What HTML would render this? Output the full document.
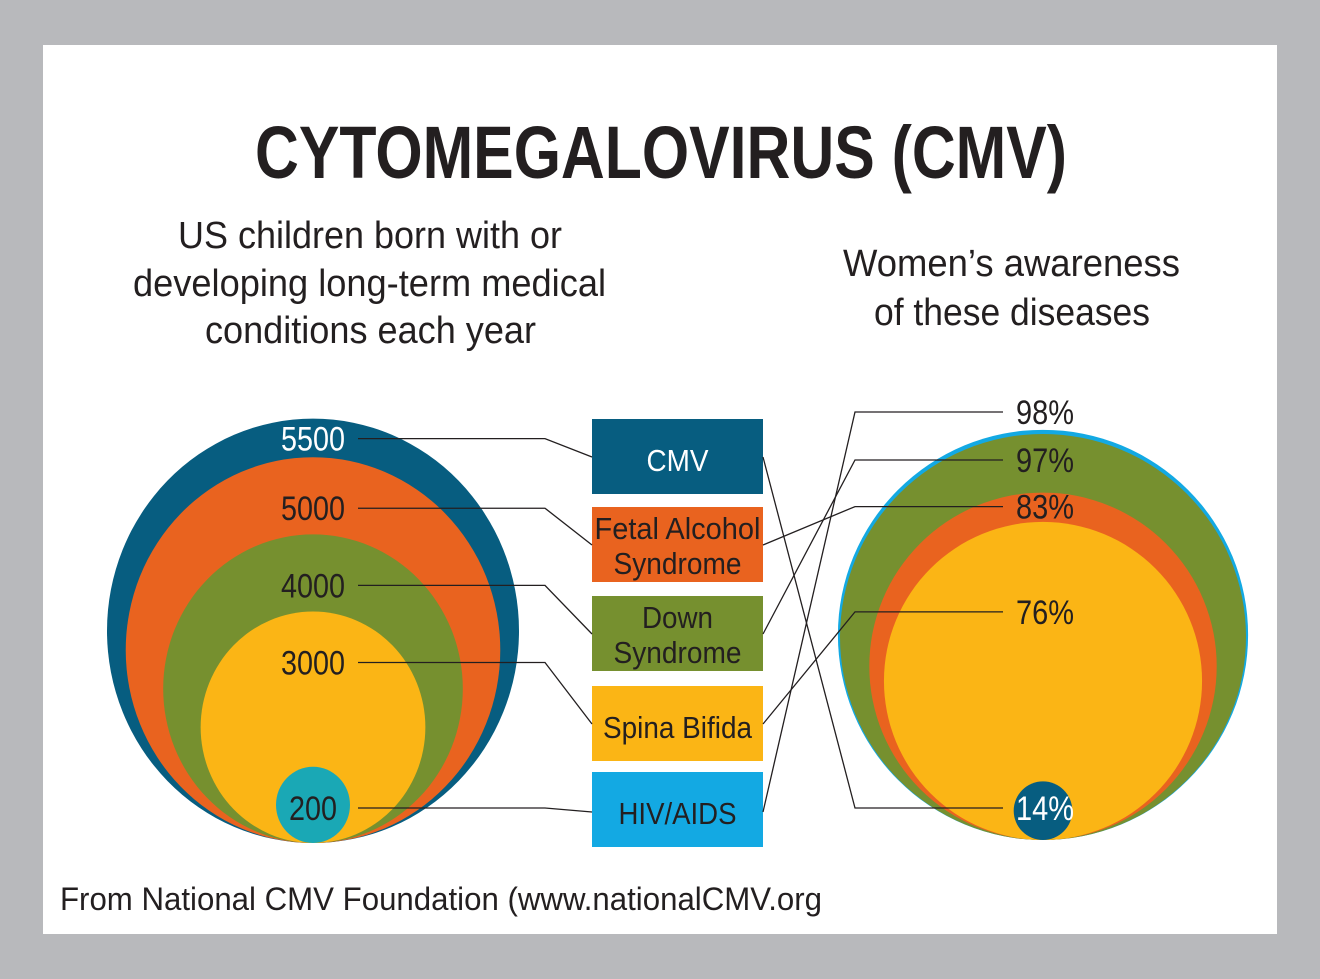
<!DOCTYPE html>
<html><head><meta charset="utf-8"><style>
html,body{margin:0;padding:0;background:#b8b9bc;}
svg{display:block;}
text{font-family:"Liberation Sans",sans-serif;}
</style></head><body>
<svg id="chart" width="1320" height="979" viewBox="0 0 1320 979">
<rect x="0" y="0" width="1320" height="979" fill="#b8b9bc"/>
<rect x="43" y="45" width="1234" height="889" fill="#ffffff"/>
<text x="255" y="178" font-size="74" font-weight="bold" fill="#231f20" textLength="812" lengthAdjust="spacingAndGlyphs">CYTOMEGALOVIRUS (CMV)</text>
<g fill="#231f20" font-size="38">
<text x="178" y="248" textLength="384" lengthAdjust="spacingAndGlyphs">US children born with or</text>
<text x="133" y="296" textLength="473" lengthAdjust="spacingAndGlyphs">developing long-term medical</text>
<text x="205" y="343" textLength="331" lengthAdjust="spacingAndGlyphs">conditions each year</text>
</g>
<g fill="#231f20" font-size="38">
<text x="843" y="276" textLength="337" lengthAdjust="spacingAndGlyphs">Women’s awareness</text>
<text x="874" y="325" textLength="276" lengthAdjust="spacingAndGlyphs">of these diseases</text>
</g>
<g id="left"></g><g id="right"></g><g id="boxes"></g><g id="lines"></g><g id="labels"></g>
<text x="60" y="910" font-size="32" fill="#231f20" textLength="762" lengthAdjust="spacingAndGlyphs">From National CMV Foundation (www.nationalCMV.org</text>
</svg>
<script>
const categories = ["CMV","Fetal Alcohol Syndrome","Down Syndrome","Spina Bifida","HIV/AIDS"];
const cases = [5500,5000,4000,3000,200];
const awareness = [14,83,97,76,98];
const colors = ["#075d80","#e9631f","#76902f","#fbb515","#1aa8b5"];
const boxColors = ["#075d80","#e9631f","#76902f","#fbb515","#13a9e3"];
const NS="http://www.w3.org/2000/svg";
function mk(tag,attrs,parent){const e=document.createElementNS(NS,tag);for(const k in attrs)e.setAttribute(k,attrs[k]);parent.appendChild(e);return e;}
const L=document.getElementById('left'),R=document.getElementById('right'),B=document.getElementById('boxes'),LN=document.getElementById('lines'),LB=document.getElementById('labels');
const leftCx=313,leftBottom=843;
function rxL(v){return Math.max(v/5500*206,37);}
function ryL(v){return rxL(v)*1.03;}
const rightCx=1043,rightBottom=840;
function rR(p){return p/97*203;}
const orderL=cases.map((v,i)=>i).sort((a,b)=>cases[b]-cases[a]);
orderL.forEach(i=>{
  const e=mk('ellipse',{cx:leftCx,cy:leftBottom-ryL(cases[i]),rx:rxL(cases[i]),ry:ryL(cases[i]),fill:colors[i]},L);
  
  
});
const orderR=awareness.map((v,i)=>i).sort((a,b)=>awareness[b]-awareness[a]);
orderR.forEach(i=>{
  const r=rR(awareness[i]);
  const c=mk('circle',{cx:rightCx,cy:rightBottom-r,r:r,fill:boxColors[i]},R);
  
  
});
const boxTop=[419,507,596,686,772];
const boxLines=[["CMV"],["Fetal Alcohol","Syndrome"],["Down","Syndrome"],["Spina Bifida"],["HIV/AIDS"]];
const boxW=[[62],[166,128],[71,128],[149],[118]];
categories.forEach((c,i)=>{
  const g=mk('g',{},B);
  
  
  mk('rect',{x:592,y:boxTop[i],width:171,height:75,fill:boxColors[i]},g);
  const ls=boxLines[i];const fill=(i===0)?"#ffffff":"#231f20";
  ls.forEach((t,j)=>{
    const y=ls.length===1?boxTop[i]+52:boxTop[i]+32+j*35;
    mk('text',{x:677.5,y:y,'font-size':31,'text-anchor':'middle',fill:fill,textLength:boxW[i][j],lengthAdjust:'spacingAndGlyphs'},g).textContent=t;
  });
});
// label offsets from top of shape (layout)
function leftLabelY(i,v){ if(i===4) return 808; const top=leftBottom-2*ryL(v); return top+(v===Math.max(...cases)?20:51); }
cases.forEach((v,i)=>{
  const y=leftLabelY(i,v);
  const t=mk('text',{x:313,y:y+12,'font-size':34,'text-anchor':'middle',fill:i===0?"#ffffff":"#231f20",textLength:String(v).length*16,lengthAdjust:'spacingAndGlyphs'},LB);
  t.textContent=String(v);
  
  
  const mid=boxTop[i]+(i===4?40:38);
  const p=mk('polyline',{points:`358,${y} 545,${y} 592,${mid}`,fill:'none',stroke:'#231f20','stroke-width':1.3},LN);
  
  
});
function rightLabelY(i,p){
  if(i===0) return 808;
  if(p===Math.max(...awareness)) return 412;
  const top=rightBottom-2*rR(p);
  return top+(p>=95?26:(p>=80?14:90));
}
awareness.forEach((p,i)=>{
  const y=rightLabelY(i,p);
  const t=mk('text',{x:1045,y:y+12,'font-size':34,'text-anchor':'middle',fill:i===0?"#ffffff":"#231f20",textLength:58,lengthAdjust:'spacingAndGlyphs'},LB);
  t.textContent=p+"%";
  
  
  const by=boxTop[i]+(i===4?40:38);
  const pl=mk('polyline',{points:`763,${by} 855,${y} 1003,${y}`,fill:'none',stroke:'#231f20','stroke-width':1.3},LN);
  
  
});
</script>
</body></html>
